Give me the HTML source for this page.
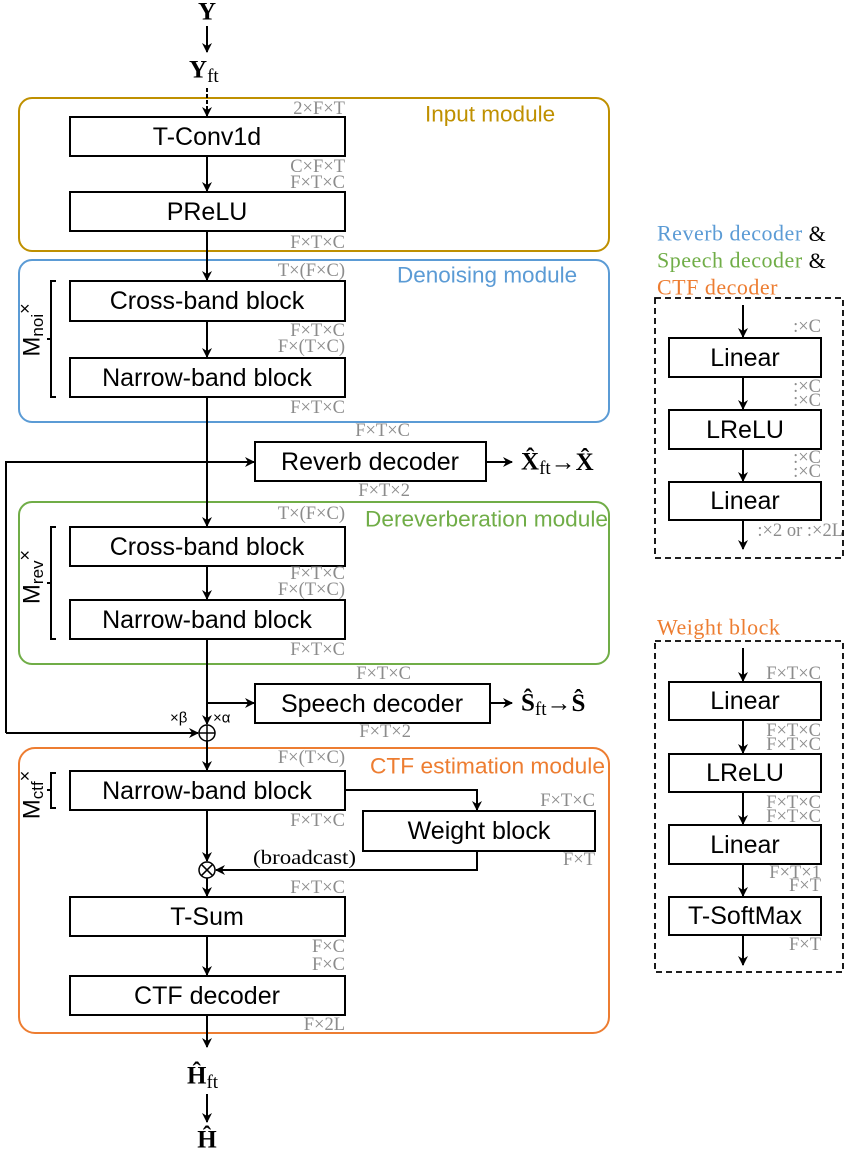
<!DOCTYPE html>
<html><head><meta charset="utf-8"><style>
html,body{margin:0;padding:0;background:#fff}
svg{display:block}
.b{fill:#fff;stroke:#000;stroke-width:2}
.t{font-family:"Liberation Sans",sans-serif;font-size:25px;text-anchor:middle;dominant-baseline:central}
.r{font-family:"Liberation Sans",sans-serif;font-size:25px;text-anchor:middle;dominant-baseline:central}
.d{font-family:"Liberation Serif",serif;font-size:18.5px;fill:#8c8c8c;text-anchor:end;dominant-baseline:central}
.m{font-family:"Liberation Sans",sans-serif;font-size:22.5px;dominant-baseline:central}
.s{font-family:"Liberation Serif",serif;font-size:22px;dominant-baseline:central;letter-spacing:0.5px}
.v{font-family:"Liberation Serif",serif;font-weight:bold;font-size:25px;dominant-baseline:central}
.l{stroke:#000;stroke-width:2;fill:none}
</style></head><body>
<svg width="846" height="1155" viewBox="0 0 846 1155" xmlns="http://www.w3.org/2000/svg">
<defs><marker id="a" markerWidth="10" markerHeight="10" refX="9" refY="5" orient="auto" markerUnits="userSpaceOnUse"><path d="M0,0 L10,5 L0,10 L3,5 z" fill="#000"/></marker></defs>

<rect x="19" y="98" width="590" height="153" rx="13" fill="none" stroke="#BF9000" stroke-width="2"/>
<rect x="19" y="260" width="590" height="162" rx="13" fill="none" stroke="#5B9BD5" stroke-width="2"/>
<rect x="19" y="502" width="590" height="162" rx="13" fill="none" stroke="#70AD47" stroke-width="2"/>
<rect x="19" y="748" width="590" height="285" rx="16" fill="none" stroke="#ED7D31" stroke-width="2"/>
<text class="m" x="425" y="114" fill="#BF9000">Input module</text>
<text class="m" x="397" y="275" fill="#5B9BD5">Denoising module</text>
<text class="m" x="365" y="519" fill="#70AD47" textLength="243" lengthAdjust="spacingAndGlyphs">Dereverberation module</text>
<text class="m" x="370" y="766" fill="#ED7D31" textLength="235" lengthAdjust="spacingAndGlyphs">CTF estimation module</text>

<text class="v" x="207" y="12" text-anchor="middle">Y</text>
<line class="l" x1="207" y1="26" x2="207" y2="52" marker-end="url(#a)"/>
<text class="v" x="189" y="70">Y<tspan font-weight="normal" font-size="19" dy="6">ft</tspan></text>
<line class="l" x1="207" y1="88" x2="207" y2="116" stroke-dasharray="4,2" marker-end="url(#a)"/>

<line class="l" x1="207" y1="156" x2="207" y2="191" marker-end="url(#a)"/>
<line class="l" x1="207" y1="231" x2="207" y2="280" marker-end="url(#a)"/>
<line class="l" x1="207" y1="321" x2="207" y2="357" marker-end="url(#a)"/>
<line class="l" x1="207" y1="397" x2="207" y2="526" marker-end="url(#a)"/>
<line class="l" x1="207" y1="566" x2="207" y2="599" marker-end="url(#a)"/>
<line class="l" x1="207" y1="639" x2="207" y2="724" marker-end="url(#a)"/>
<line class="l" x1="207" y1="741" x2="207" y2="770" marker-end="url(#a)"/>
<line class="l" x1="207" y1="810" x2="207" y2="861" marker-end="url(#a)"/>
<line class="l" x1="207" y1="878" x2="207" y2="896" marker-end="url(#a)"/>
<line class="l" x1="207" y1="936" x2="207" y2="975" marker-end="url(#a)"/>
<line class="l" x1="207" y1="1015" x2="207" y2="1047" marker-end="url(#a)"/>
<line class="l" x1="207" y1="1094" x2="207" y2="1122" marker-end="url(#a)"/>

<polyline class="l" points="6,733 6,462 254,462" marker-end="url(#a)"/>
<line class="l" x1="6" y1="733" x2="198" y2="733" marker-end="url(#a)"/>
<line class="l" x1="486" y1="462" x2="512" y2="462" marker-end="url(#a)"/>
<line class="l" x1="207" y1="703" x2="254" y2="703" marker-end="url(#a)"/>
<line class="l" x1="490" y1="703" x2="512" y2="703" marker-end="url(#a)"/>
<circle cx="207" cy="733" r="8" fill="#fff" stroke="#000" stroke-width="1.5"/>
<line x1="199" y1="733" x2="215" y2="733" stroke="#000" stroke-width="1.5"/>
<line x1="207" y1="725" x2="207" y2="741" stroke="#000" stroke-width="1.5"/>
<text x="170" y="718" font-family="Liberation Sans,sans-serif" font-size="15" dominant-baseline="central">×β</text>
<text x="213" y="718" font-family="Liberation Sans,sans-serif" font-size="15" dominant-baseline="central">×α</text>

<polyline class="l" points="345,790 477,790 477,810" marker-end="url(#a)"/>
<polyline class="l" points="477,851 477,870 216,870" marker-end="url(#a)"/>
<circle cx="207" cy="870" r="8" fill="#fff" stroke="#000" stroke-width="1.5"/>
<line x1="201.3" y1="864.3" x2="212.7" y2="875.7" stroke="#000" stroke-width="1.5"/>
<line x1="212.7" y1="864.3" x2="201.3" y2="875.7" stroke="#000" stroke-width="1.5"/>
<text x="253" y="858" font-family="Liberation Serif,serif" font-size="20" dominant-baseline="central" textLength="103" lengthAdjust="spacingAndGlyphs">(broadcast)</text>

<rect class="b" x="70" y="117" width="275" height="39"/><text class="t" x="207" y="137">T-Conv1d</text>
<rect class="b" x="70" y="192" width="275" height="39"/><text class="t" x="207" y="212">PReLU</text>
<rect class="b" x="70" y="281" width="275" height="40"/><text class="t" x="207" y="301">Cross-band block</text>
<rect class="b" x="70" y="358" width="275" height="39"/><text class="t" x="207" y="378">Narrow-band block</text>
<rect class="b" x="255" y="442" width="231" height="39"/><text class="t" x="370" y="462">Reverb decoder</text>
<rect class="b" x="70" y="527" width="275" height="39"/><text class="t" x="207" y="547">Cross-band block</text>
<rect class="b" x="70" y="600" width="275" height="39"/><text class="t" x="207" y="620">Narrow-band block</text>
<rect class="b" x="255" y="684" width="235" height="39"/><text class="t" x="372" y="704">Speech decoder</text>
<rect class="b" x="70" y="771" width="275" height="39"/><text class="t" x="207" y="791">Narrow-band block</text>
<rect class="b" x="363" y="811" width="232" height="40"/><text class="t" x="479" y="831">Weight block</text>
<rect class="b" x="70" y="897" width="275" height="39"/><text class="t" x="207" y="917">T-Sum</text>
<rect class="b" x="70" y="976" width="275" height="39"/><text class="t" x="207" y="996">CTF decoder</text>

<text class="v" x="521" y="462">X̂<tspan font-weight="normal" font-size="19" dy="6">ft</tspan><tspan dy="-6">→X̂</tspan></text>
<text class="v" x="521" y="703">Ŝ<tspan font-weight="normal" font-size="19" dy="6">ft</tspan><tspan dy="-6">→Ŝ</tspan></text>
<text class="v" x="187" y="1076">Ĥ<tspan font-weight="normal" font-size="19" dy="6">ft</tspan></text>
<text class="v" x="207" y="1140" text-anchor="middle">Ĥ</text>

<polyline class="l" stroke-width="1.5" points="56,281 51,281 51,397 56,397"/><line class="l" stroke-width="1.5" x1="47" y1="339" x2="51" y2="339"/>
<polyline class="l" stroke-width="1.5" points="56,527 51,527 51,639 56,639"/><line class="l" stroke-width="1.5" x1="47" y1="583" x2="51" y2="583"/>
<polyline class="l" stroke-width="1.5" points="56,773 51,773 51,808 56,808"/><line class="l" stroke-width="1.5" x1="47" y1="790" x2="51" y2="790"/>
<text transform="translate(32,330) rotate(-90)" font-family="Liberation Sans,sans-serif" font-size="24" text-anchor="middle" dominant-baseline="central">M<tspan font-size="17" dy="5">noi</tspan><tspan dy="-12" font-size="18">×</tspan></text>
<text transform="translate(32,577) rotate(-90)" font-family="Liberation Sans,sans-serif" font-size="24" text-anchor="middle" dominant-baseline="central">M<tspan font-size="17" dy="5">rev</tspan><tspan dy="-12" font-size="18">×</tspan></text>
<text transform="translate(32,795) rotate(-90)" font-family="Liberation Sans,sans-serif" font-size="24" text-anchor="middle" dominant-baseline="central">M<tspan font-size="17" dy="5">ctf</tspan><tspan dy="-12" font-size="18">×</tspan></text>

<text class="d" x="345" y="109">2×F×T</text>
<text class="d" x="345" y="167">C×F×T</text>
<text class="d" x="345" y="183">F×T×C</text>
<text class="d" x="345" y="243">F×T×C</text>
<text class="d" x="345" y="271">T×(F×C)</text>
<text class="d" x="345" y="331">F×T×C</text>
<text class="d" x="345" y="347">F×(T×C)</text>
<text class="d" x="345" y="408">F×T×C</text>
<text class="d" x="410" y="431">F×T×C</text>
<text class="d" x="410" y="491">F×T×2</text>
<text class="d" x="345" y="514">T×(F×C)</text>
<text class="d" x="345" y="574">F×T×C</text>
<text class="d" x="345" y="590">F×(T×C)</text>
<text class="d" x="345" y="650">F×T×C</text>
<text class="d" x="411" y="674">F×T×C</text>
<text class="d" x="411" y="732">F×T×2</text>
<text class="d" x="345" y="758">F×(T×C)</text>
<text class="d" x="345" y="821">F×T×C</text>
<text class="d" x="595" y="801">F×T×C</text>
<text class="d" x="595" y="860">F×T</text>
<text class="d" x="345" y="888">F×T×C</text>
<text class="d" x="345" y="947">F×C</text>
<text class="d" x="345" y="965">F×C</text>
<text class="d" x="345" y="1025">F×2L</text>

<text class="s" x="657" y="233" fill="#5B9BD5">Reverb decoder <tspan fill="#000">&amp;</tspan></text>
<text class="s" x="657" y="260" fill="#70AD47">Speech decoder <tspan fill="#000">&amp;</tspan></text>
<text class="s" x="657" y="287" fill="#ED7D31">CTF decoder</text>
<rect x="655" y="298" width="188" height="260" fill="none" stroke="#000" stroke-width="1.8" stroke-dasharray="6,4"/>
<line class="l" x1="743" y1="305" x2="743" y2="337" marker-end="url(#a)"/>
<rect class="b" x="669" y="338" width="152" height="39"/><text class="r" x="745" y="358">Linear</text>
<line class="l" x1="743" y1="377" x2="743" y2="409" marker-end="url(#a)"/>
<rect class="b" x="669" y="410" width="152" height="39"/><text class="r" x="745" y="430">LReLU</text>
<line class="l" x1="743" y1="449" x2="743" y2="481" marker-end="url(#a)"/>
<rect class="b" x="669" y="482" width="152" height="38"/><text class="r" x="745" y="501">Linear</text>
<line class="l" x1="743" y1="520" x2="743" y2="549" marker-end="url(#a)"/>
<text class="d" x="821" y="327">:×C</text>
<text class="d" x="821" y="387">:×C</text>
<text class="d" x="821" y="401">:×C</text>
<text class="d" x="821" y="458">:×C</text>
<text class="d" x="821" y="472">:×C</text>
<text class="d" x="843" y="531">:×2 or :×2L</text>

<text class="s" x="657" y="627" fill="#ED7D31">Weight block</text>
<rect x="655" y="641" width="188" height="331" fill="none" stroke="#000" stroke-width="1.8" stroke-dasharray="6,4"/>
<line class="l" x1="743" y1="648" x2="743" y2="681" marker-end="url(#a)"/>
<rect class="b" x="669" y="682" width="152" height="38"/><text class="r" x="745" y="701">Linear</text>
<line class="l" x1="743" y1="720" x2="743" y2="753" marker-end="url(#a)"/>
<rect class="b" x="669" y="754" width="152" height="38"/><text class="r" x="745" y="773">LReLU</text>
<line class="l" x1="743" y1="792" x2="743" y2="824" marker-end="url(#a)"/>
<rect class="b" x="669" y="825" width="152" height="39"/><text class="r" x="745" y="845">Linear</text>
<line class="l" x1="743" y1="864" x2="743" y2="896" marker-end="url(#a)"/>
<rect class="b" x="669" y="897" width="152" height="38"/><text class="r" x="745" y="916">T-SoftMax</text>
<line class="l" x1="743" y1="935" x2="743" y2="965" marker-end="url(#a)"/>
<text class="d" x="821" y="674">F×T×C</text>
<text class="d" x="821" y="731">F×T×C</text>
<text class="d" x="821" y="745">F×T×C</text>
<text class="d" x="821" y="803">F×T×C</text>
<text class="d" x="821" y="817">F×T×C</text>
<text class="d" x="821" y="873">F×T×1</text>
<text class="d" x="821" y="886">F×T</text>
<text class="d" x="821" y="945">F×T</text>
</svg>
</body></html>
